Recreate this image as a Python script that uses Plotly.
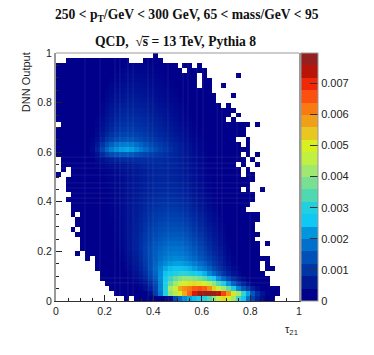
import plotly.graph_objects as go

# tau21 vs DNN output, 50 x 50 bins. Values in units of 1e-5,
# rows go from the bottom bin (DNN 0 - 0.02) to the top bin, _ = empty bin
_ = None
rows = [
    [_]*14 + [2,_,3,4,5,6,8,12,18,40,130,170,210,230,250,270,300,340,400,460,520,500,420,330,260,180,120,70,35,15,5],
    [_]*12 + [2,3,5,7,10,14,22,40,110,190,300,400,450,500,570,640,720,760,790,790,770,740,670,590,510,420,320,230,150,90,50,25,12,5],
    [_]*11 + [2,3,5,8,12,18,28,45,70,120,200,300,430,470,570,600,620,650,660,650,600,530,470,420,360,280,200,150,110,70,40,20,10,5,3],
    [_]*10 + [2,4,6,8,12,18,26,38,55,85,130,200,290,360,420,470,490,510,520,510,490,450,400,340,280,220,160,110,75,45,25,12,6,2],
    [_]*9 + [2,3,5,8,12,18,26,38,52,75,110,150,210,270,320,360,390,400,400,390,370,340,300,260,210,160,120,85,55,35,20,10,5,3,1],
    [_]*9 + [3,5,7,10,15,22,32,46,65,90,125,165,210,255,285,300,310,310,300,285,265,240,205,170,135,100,72,50,32,20,11,6,3,1],
    [_]*8 + [2,4,6,9,13,19,27,39,55,75,100,135,170,205,235,250,255,255,250,240,225,205,185,160,130,100,75,54,38,24,15,8,4,2,_,1,1],
    [_]*8 + [3,5,7,11,15,22,31,44,60,80,105,135,165,190,210,222,228,228,220,208,192,175,155,130,105,82,60,42,28,18,11,6,3,1,_,1],
    [_]*6 + [1,_,4,6,9,13,18,25,35,48,65,85,110,135,158,178,192,202,205,203,195,182,168,150,132,112,92,72,53,37,25,16,10,6,3,2,1,1],
    [_]*4 + [1,_,2,3,5,7,10,15,20,28,38,52,68,88,112,135,155,172,183,190,192,190,182,170,155,138,120,101,82,63,46,32,21,13,8,4,2,1],
    [_]*5 + [2,3,4,6,8,12,17,23,31,42,56,72,92,114,135,152,166,176,182,183,180,172,160,146,128,110,91,73,56,41,28,19,11,6,3,2,1],
    [_]*5 + [2,3,5,7,9,13,18,24,32,43,56,72,90,110,128,144,156,165,170,171,168,160,148,134,117,100,83,66,50,36,25,16,10,6,3,2,1,_,1],
    [_]*5 + [2,4,5,7,10,14,19,25,33,43,56,71,88,106,122,136,147,155,159,160,157,149,137,123,107,91,75,59,45,33,23,15,9,5,3,1],
    [_]*4 + [1,2,4,6,8,11,15,20,26,34,44,56,70,85,102,117,129,139,146,150,150,147,139,127,113,98,83,68,54,41,30,21,14,8,5,2,1,1],
    [_]*3 + [1,_,3,4,6,9,12,16,21,27,35,44,55,68,82,97,111,122,131,137,140,140,136,128,117,104,90,76,62,49,37,27,19,12,7,4,2,1],
    [_]*4 + [1,3,5,7,10,13,17,22,28,36,45,55,67,80,93,105,115,123,128,130,130,126,118,107,95,82,69,56,44,33,24,17,11,7,4,2,1],
    [_]*4 + [2,4,5,8,10,14,18,23,29,36,45,54,65,77,88,99,108,115,119,121,120,116,108,98,87,74,62,50,39,30,21,15,10,6,3,2,1,1],
    [_]*3 + [1,_,4,6,8,11,15,19,24,30,37,45,54,64,75,85,94,102,108,112,113,112,108,100,90,79,67,56,45,35,26,19,13,9,5,3,2,1,1],
    [_]*3 + [2,3,4,6,9,12,15,20,25,31,37,45,53,63,72,81,89,96,101,104,105,104,100,92,82,72,61,50,40,31,23,17,12,8,4,2],
    [_]*3 + [2,3,5,7,9,12,16,20,25,31,37,44,52,61,69,77,84,90,95,98,98,96,92,85,76,66,55,45,36,28,21,15,11,7,4,2,1],
    [_]*2 + [1,2,3,5,7,10,13,16,21,26,31,37,44,51,59,67,74,80,85,89,91,91,89,85,78,70,60,50,41,33,25,19,14,10,6,4,2,2,1],
    [_]*3 + [2,3,5,8,10,13,17,21,26,32,38,44,51,58,65,71,77,81,85,86,86,84,79,73,65,55,46,38,30,23,18,13,9,6,4,2,1,1],
    [_]*2 + [1,2,4,6,8,11,14,18,22,27,32,38,44,50,57,63,69,74,78,81,82,82,80,75,69,61,52,43,35,28,22,17,12,8,5,3,_,1,_,_,1],
    [_]*2 + [2,3,4,6,9,11,15,19,23,28,33,38,44,50,56,62,67,72,76,78,79,79,76,71,65,58,49,41,33,26,21,16,11,8,5,3,2,1],
    [_]*2 + [2,3,5,7,9,12,16,20,24,29,34,39,45,50,56,61,66,71,74,76,77,76,73,68,62,55,47,39,31,25,20,15,11,7,5,3,2,1,1],
    [1,_,_,3,5,7,10,13,17,21,26,31,36,41,46,51,57,62,67,71,74,76,76,75,72,67,60,53,45,37,30,24,19,14,10,7,4,3,_,1,1],
    [_,1,_,3,5,8,11,15,19,24,29,34,39,44,49,54,59,64,68,72,75,76,76,74,70,65,58,50,43,35,29,23,18,13,9,6,4,2,_,1],
    [_,1,2,4,6,9,13,18,25,32,38,44,50,55,60,64,68,72,75,77,79,80,79,76,71,65,58,50,42,35,28,22,17,12,8,5,3,_,1,_,_,1],
    [_,1,2,4,7,10,15,22,32,45,58,68,76,82,85,87,88,88,88,88,87,85,82,78,72,66,58,50,42,34,27,21,16,12,8,5,3,2,1,_,1],
    [1,2,3,5,8,12,18,28,48,80,110,130,142,150,152,148,140,130,120,112,105,98,90,82,74,66,58,50,42,34,27,21,16,12,8,5,3,2,_,1,_,1],
    [1,2,3,5,8,13,20,35,70,120,165,195,215,225,230,225,210,190,170,150,135,118,103,90,78,66,56,46,38,31,25,20,15,11,8,5,3,2,1,1],
    [1,2,3,5,8,12,18,30,55,95,135,160,180,190,195,190,178,162,146,130,118,105,93,82,72,62,52,44,36,29,23,18,14,10,7,5,3,2,_,1],
    [1,2,3,5,7,11,16,25,42,70,98,118,132,142,146,144,138,128,118,108,98,89,80,71,63,54,46,38,32,26,20,16,12,8,6,4,2,_,_,1],
    [1,2,3,4,7,10,14,21,34,55,78,96,108,116,120,120,116,110,102,94,86,79,71,64,56,49,41,34,28,23,18,14,10,7,5,3,2,1,1],
    [1,2,3,4,6,9,13,19,30,47,66,82,94,102,106,107,104,99,93,86,79,72,65,58,51,44,37,31,25,20,16,12,9,6,4,3,2,1,1],
    [_,1,3,4,6,8,12,17,26,41,58,73,85,92,96,97,95,91,86,80,73,67,60,53,46,40,34,28,23,18,14,11,8,5,4,3,2,1,1,1,_,1],
    [1,1,2,4,5,8,11,16,24,37,52,66,77,84,88,89,88,85,80,74,68,62,55,49,42,36,31,25,20,16,12,9,7,4,3,_,1],
    [1,1,2,3,5,7,10,15,22,34,47,60,70,77,81,82,81,78,74,69,63,57,51,45,39,33,28,23,18,14,11,8,6,4,3,2,_,1],
    [1,1,2,3,5,7,9,13,20,30,43,55,64,71,75,76,75,72,68,63,58,52,47,41,35,30,25,21,16,13,10,8,5,3,2,2,1],
    [1,1,2,3,4,6,8,12,18,27,38,49,58,64,68,69,68,66,62,58,53,47,42,37,32,27,23,19,15,12,9,6,4,2,_,1],
    [1,1,2,3,4,5,7,10,15,23,33,43,51,57,61,62,62,60,57,53,48,43,38,34,29,25,21,17,13,10,7,5,2],
    [1,1,1,2,3,5,6,9,13,20,29,38,46,51,55,56,56,54,51,47,43,39,35,31,26,22,18,15,12,9,6,4,2,_,_,_,1],
    [1,1,1,2,3,4,6,8,11,17,25,33,40,45,49,51,51,49,47,43,40,36,32,28,24,20,17,14,10,7,4,2],
    [1,1,1,2,3,4,5,7,10,15,22,29,36,41,44,46,46,45,42,39,36,33,29,25,22,18,15,11,7,_,2,1,_,_,1],
    [1,1,1,2,2,3,5,6,9,13,19,25,31,36,39,41,41,40,38,35,32,29,26,23,19,16,13,9,5,_,2,1],
    [1,1,1,1,2,3,4,6,8,12,17,22,27,31,35,37,37,36,34,31,28,26,23,20,17,14,11,8,4,_,1,_,_,_,_,_,_,1],
    [1,1,1,1,2,2,3,5,7,10,14,18,23,27,30,32,33,32,30,28,25,23,20,17,14,10,_,6,4,2,1],
    [1,1,1,1,1,2,3,4,6,8,11,15,19,23,26,28,29,28,27,25,22,20,17,14,9,_,3,1,_,1],
    [_,_,1,1,1,1,2,3,4,6,8,11,14,17,17,_,_,_,8,8,6,3],
    [_]*20 + [3],
]

tau_bins = [i*0.02 + 0.01 for i in range(50)]
dnn_bins = [i*0.02 + 0.01 for i in range(50)]

# 20 colour levels of the palette, bottom to top
levels = ["#00008a","#001a96","#0035a8","#0050b8","#0070cc","#0095dc","#10c8f4","#20d0e0","#50d8b0","#78e090",
          "#a0e870","#c0f040","#d8f020","#e8c820","#f0a018","#f87a10","#fc5010","#f02808","#b81408","#942020"]
bar_ticks = [0, 0.001, 0.002, 0.003, 0.004, 0.005, 0.006, 0.007]
bar_labels = ["0", "0.001", "0.002", "0.003", "0.004", "0.005", "0.006", "0.007"]
axis_ticks = [0, 0.2, 0.4, 0.6, 0.8, 1]
axis_labels = ["0", "0.2", "0.4", "0.6", "0.8", "1"]

# faint seams the rasterised cells show in the original
seams_x = [0.119, 0.181, 0.243, 0.263, 0.296, 0.317, 0.379, 0.399, 0.461, 0.523, 0.543, 0.58, 0.605, 0.663, 0.683, 0.745, 0.798]
seams_y = [0.073, 0.093, 0.395, 0.415, 0.435, 0.456, 0.476, 0.508, 0.536, 0.556, 0.58]

z = []
for r in rows:
    full = r + [None]*(50 - len(r))
    z.append([None if v is None else v*1e-5 for v in full])

stepped = []
for i, c in enumerate(levels):
    stepped.append([i/len(levels), c])
    stepped.append([(i+1)/len(levels), c])

# cells use the smooth palette, the colour bar keeps the visible levels
smooth = [[0, levels[0]]]
for i, c in enumerate(levels):
    smooth.append([(i + 0.5)/len(levels), c])
smooth.append([1, levels[-1]])

fig = go.Figure()
fig.add_trace(go.Heatmap(x=tau_bins, y=dnn_bins, z=z, zmin=0, zmax=0.00797, colorscale=smooth, showscale=False, hoverongaps=False))
fig.add_trace(go.Heatmap(
    x=tau_bins, y=dnn_bins, z=z, zmin=0, zmax=0.00797, opacity=0,
    colorscale=stepped, hoverinfo="skip",
    colorbar=dict(x=1.008, xanchor="left", xpad=0, ypad=0, thickness=17, len=1,
                  tickvals=bar_ticks, ticktext=bar_labels, ticks="inside", ticklen=8,
                  tickcolor="#333", outlinecolor="#999", outlinewidth=1,
                  tickfont=dict(family="Liberation Sans", size=11, color="#222")),
))

serif = dict(family="Liberation Serif", size=13.6, color="#111")
sans = dict(family="Liberation Sans", size=11, color="#222")
notes = dict(xref="paper", yref="paper", showarrow=False, xanchor="center", yanchor="middle")
fig.add_annotation(text="<b>250 < p<sub>T</sub>/GeV < 300 GeV, 65 < mass/GeV < 95</b>", x=0.541, y=1.153, font=serif, **notes)
fig.add_annotation(text="<b>QCD,  \u221as\u0305 = 13 TeV, Pythia 8</b>", x=0.492, y=1.048, font=serif, **notes)
fig.add_annotation(text="DNN Output", x=-0.123, y=0.883, textangle=-90, font=sans, **notes)
fig.add_annotation(text="\u03c4<sub>21</sub>", x=0.971, y=-0.117, font=sans, **notes)
fig.add_shape(type="line", xref="paper", yref="paper", x0=0, x1=1, y0=1, y1=1, line=dict(color="#999", width=1))
for s in seams_x:
    fig.add_vline(x=s, line=dict(color="rgba(255,255,255,0.08)", width=1))
for s in seams_y:
    fig.add_hline(y=s, line=dict(color="rgba(255,255,255,0.08)", width=1))

fig.update_xaxes(range=[0, 1], tickvals=axis_ticks, ticktext=axis_labels, ticks="inside", ticklen=6, tickcolor="#222",
                 showgrid=False, zeroline=False, showline=True, linecolor="#333", linewidth=1,
                 minor=dict(dtick=0.05, ticks="inside", ticklen=3, tickcolor="#222", showgrid=False),
                 tickfont=dict(family="Liberation Sans", size=10.5, color="#222"))
fig.update_yaxes(range=[0, 1], tickvals=axis_ticks, ticktext=axis_labels, ticks="inside", ticklen=6, tickcolor="#222",
                 showgrid=False, zeroline=False, showline=True, linecolor="#999", linewidth=2, mirror=True,
                 minor=dict(dtick=0.05, ticks="inside", ticklen=3, tickcolor="#222", showgrid=False),
                 tickfont=dict(family="Liberation Sans", size=10.5, color="#222"))
# the page has an 8 px body margin, so the figure is 8 px smaller than the window
fig.update_layout(width=366, height=347, margin=dict(l=48, r=75, t=45, b=54),
                  paper_bgcolor="white", plot_bgcolor="white", showlegend=False)

fig.write_html("out.html")
